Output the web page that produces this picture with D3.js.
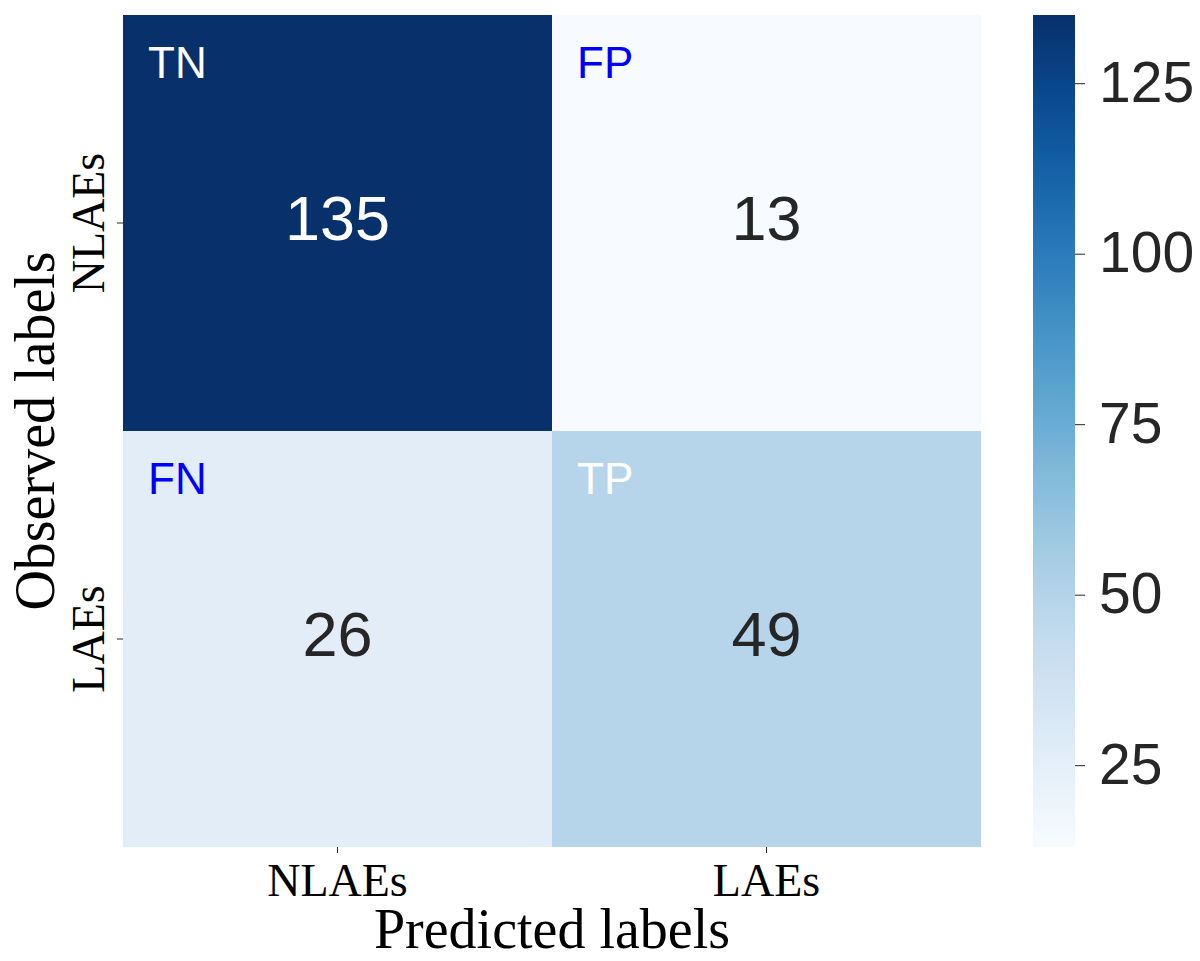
<!DOCTYPE html>
<html>
<head>
<meta charset="utf-8">
<script src="https://cdn.jsdelivr.net/npm/d3@7"></script>
<style>
  body { margin: 0; background: #ffffff; }
</style>
</head>
<body>
<div id="chart"></div>
<script>
// data
const predicted = ["NLAEs", "LAEs"];
const observed = ["NLAEs", "LAEs"];
const counts = [[135, 13], [26, 49]];
const cellTags = [["TN", "FP"], ["FN", "TP"]];
const tagColors = [["#ffffff", "#0000ff"], ["#0000ff", "#ffffff"]];
const colorTicks = [25, 50, 75, 100, 125];

// layout
const width = 1200, height = 961;
const plot = { left: 123, top: 15, right: 981, bottom: 847 };
const bar = { left: 1033, right: 1075 };
const serif = "'Liberation Serif', 'Times New Roman', serif";
const sans = "'Liberation Sans', Arial, sans-serif";

const svg = d3.select("#chart").append("svg")
    .attr("width", width)
    .attr("height", height);

const x = d3.scaleBand().domain(predicted).range([plot.left, plot.right]);
const y = d3.scaleBand().domain(observed).range([plot.top, plot.bottom]);

const vmin = d3.min(counts.flat()), vmax = d3.max(counts.flat());
const color = d3.scaleSequential(d3.interpolateBlues).domain([vmin, vmax]);

// cells
const cells = [];
counts.forEach((row, i) => row.forEach((v, j) => cells.push({ r: i, c: j, v })));

svg.append("g").selectAll("rect")
    .data(cells)
    .join("rect")
    .attr("x", d => x(predicted[d.c]))
    .attr("y", d => y(observed[d.r]))
    .attr("width", x.bandwidth())
    .attr("height", y.bandwidth())
    .attr("fill", d => color(d.v));

// numbers in cells
svg.append("g").selectAll("text")
    .data(cells)
    .join("text")
    .attr("x", d => x(predicted[d.c]) + x.bandwidth() / 2)
    .attr("y", d => y(observed[d.r]) + y.bandwidth() / 2)
    .attr("dy", "0.27em")
    .attr("text-anchor", "middle")
    .attr("font-family", sans)
    .attr("font-size", 63)
    .attr("fill", d => d.v > (vmin + vmax) / 2 ? "#ffffff" : "#262626")
    .text(d => d.v);

// TN / FP / FN / TP tags
svg.append("g").selectAll("text")
    .data(cells)
    .join("text")
    .attr("x", d => x(predicted[d.c]) + 25)
    .attr("y", d => y(observed[d.r]) + 63)
    .attr("font-family", sans)
    .attr("font-size", 44)
    .attr("fill", d => tagColors[d.r][d.c])
    .text(d => cellTags[d.r][d.c]);

// x axis
const xAxis = svg.append("g")
    .attr("transform", `translate(0,${plot.bottom})`)
    .call(d3.axisBottom(x).tickSize(6).tickPadding(10));
xAxis.select(".domain").remove();
xAxis.selectAll("line").attr("stroke", "#262626").attr("stroke-width", 1);
xAxis.selectAll("text")
    .attr("font-family", serif)
    .attr("font-size", 46)
    .attr("fill", "#000000");

// y axis, labels rotated
const yAxis = svg.append("g")
    .attr("transform", `translate(${plot.left},0)`)
    .call(d3.axisLeft(y).tickSize(6).tickPadding(0));
yAxis.select(".domain").remove();
yAxis.selectAll("line").attr("stroke", "#262626").attr("stroke-width", 1);
yAxis.selectAll("text")
    .attr("x", 0).attr("dy", null)
    .attr("transform", "translate(-19,0) rotate(-90)")
    .attr("text-anchor", "middle")
    .attr("font-family", serif)
    .attr("font-size", 46)
    .attr("fill", "#000000");

// axis titles
svg.append("text")
    .attr("x", (plot.left + plot.right) / 2)
    .attr("y", 948)
    .attr("text-anchor", "middle")
    .attr("font-family", serif)
    .attr("font-size", 56)
    .text("Predicted labels");

svg.append("text")
    .attr("transform", `translate(54,${(plot.top + plot.bottom) / 2}) rotate(-90)`)
    .attr("text-anchor", "middle")
    .attr("font-family", serif)
    .attr("font-size", 56)
    .text("Observed labels");

// colorbar
const cy = d3.scaleLinear().domain([vmin, vmax]).range([plot.bottom, plot.top]);
const grad = svg.append("defs").append("linearGradient")
    .attr("id", "cbar")
    .attr("x1", 0).attr("y1", 1).attr("x2", 0).attr("y2", 0);
d3.range(0, 1.0001, 0.05).forEach(t => {
    grad.append("stop")
        .attr("offset", t)
        .attr("stop-color", d3.interpolateBlues(t));
});
svg.append("rect")
    .attr("x", bar.left)
    .attr("y", plot.top)
    .attr("width", bar.right - bar.left)
    .attr("height", plot.bottom - plot.top)
    .attr("fill", "url(#cbar)");

const cAxis = svg.append("g")
    .attr("transform", `translate(${bar.right},0)`)
    .call(d3.axisRight(cy).tickValues(colorTicks).tickSize(10).tickPadding(14));
cAxis.select(".domain").remove();
cAxis.selectAll("line").attr("stroke", "#262626");
cAxis.selectAll("text")
    .attr("font-family", sans)
    .attr("font-size", 57)
    .attr("fill", "#262626");
</script>
</body>
</html>
